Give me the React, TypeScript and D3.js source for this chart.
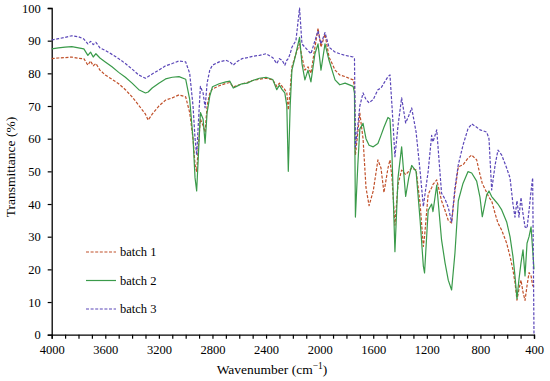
import React, { useEffect, useRef } from 'react';
import * as d3 from 'd3';

// wavenumbers (cm-1), shared by all three batches
const wavenumbers = [
  4000, 3950, 3900, 3850, 3800, 3760, 3730, 3710, 3690, 3670,
  3640, 3600, 3550, 3500, 3450, 3400, 3350, 3300, 3280, 3250,
  3200, 3150, 3100, 3050, 3000, 2970, 2945, 2930, 2918, 2905,
  2890, 2870, 2855, 2840, 2820, 2800, 2750, 2700, 2670, 2645,
  2620, 2580, 2540, 2500, 2450, 2400, 2350, 2320, 2300, 2280,
  2260, 2245, 2234, 2220, 2207, 2177, 2150, 2132, 2110, 2087,
  2065, 2035, 2012, 1990, 1960, 1930, 1885, 1850, 1810, 1750,
  1740, 1733, 1715, 1700, 1676, 1654, 1631, 1600, 1565, 1542,
  1520, 1490, 1475, 1460, 1438, 1415, 1388, 1358, 1335, 1313,
  1280, 1250, 1226, 1217, 1190, 1164, 1154, 1126, 1090, 1064,
  1040, 1015, 990, 965, 930, 893, 865, 828, 803, 786,
  753, 736, 716, 690, 669, 641, 604, 579, 557, 542,
  527, 512, 497, 482, 467, 452, 437, 422, 410, 400,
];

const batch1 = [
  84.5, 84.7, 84.8, 85.0, 84.6, 84.5, 82.5, 83.8, 82.3, 83.0,
  81.0, 79.5, 78.2, 76.8, 75.0, 72.8, 70.2, 67.5, 65.7, 67.5,
  70.0, 71.8, 72.5, 73.4, 72.8, 68, 60, 52, 50, 58,
  66, 64, 62, 70, 74, 75.2, 76.2, 76.9, 77.2, 75.8,
  76.2, 76.8, 77.2, 77.8, 78.2, 78.5, 78.0, 76, 77, 76,
  75, 74, 68.8, 75, 82, 86, 89, 85, 81, 82,
  80, 88, 93.8, 88, 92, 85, 81, 79.5, 79, 78,
  76, 55, 62, 67.8, 60, 45, 39.5, 44, 53.5, 51,
  43.5, 51, 53.5, 48, 33.5, 46, 50.4, 49, 50, 51,
  50.4, 40, 27, 30, 43, 45, 46, 47.4, 41, 38,
  35, 34.2, 44, 51.4, 52, 54, 55, 53.5, 49, 46.3,
  43.5, 42, 41, 37, 34.2, 32, 28, 24, 19.8, 16,
  10.6, 14, 16.7, 13, 10.5, 15, 19, 18, 15, 14.6,
];

const batch2 = [
  87.5, 87.8, 88.0, 88.2, 87.8, 87.5, 85.5, 86.5, 85.0, 86.0,
  84.7, 83.5, 82.0, 80.3, 78.8, 77.0, 75.0, 74.0, 74.3, 75.5,
  77.0, 78.3, 78.8, 79.0, 78.2, 72, 60, 48, 44, 55,
  68, 66, 58.6, 68, 73, 75.9, 76.8, 77.4, 77.6, 75.5,
  76, 76.8, 77, 77.8, 78.5, 78.8, 78.1, 75, 76.4, 75,
  74, 70, 50, 70, 81, 86, 91, 83, 78, 81,
  77.4, 86, 89, 81, 89, 84, 78, 76.5, 77, 76,
  74, 36, 52, 63, 64.7, 60, 58, 57.5, 58.5, 61,
  63.5, 66.5, 66, 55, 25.4, 48, 57.5, 42.3, 48, 51.8,
  50, 35, 21, 18.9, 38, 40, 37.7, 45.8, 29, 22,
  16.7, 13.7, 25, 41, 46.3, 49.9, 49.5, 47, 42, 36.1,
  42.8, 44, 42.3, 41, 40, 38.2, 34.5, 30, 23.9, 18,
  11, 17, 22, 26, 18, 28, 30, 33, 26, 20,
];

const batch3 = [
  90.2, 90.6, 91.0, 91.5, 91.2, 90.5, 89.0, 89.8, 88.8, 89.5,
  87.8, 87.0, 85.8, 84.5, 83.0, 81.3, 79.5, 78.5, 79.0, 79.8,
  81.0, 82.3, 83.0, 83.8, 83.5, 80.0, 70.0, 60.0, 55.0, 65.0,
  76.0, 74.0, 69.5, 77.0, 81.0, 82.5, 83.5, 84.0, 83.5, 82.5,
  83.5, 84.5, 84.8, 85.2, 85.5, 86.0, 84.8, 83.0, 84.5, 84.0,
  82.5, 84.0, 84.5, 86.0, 88.0, 90.0, 100, 89, 88, 87,
  86, 90, 93, 89, 92.5, 88, 86.5, 86, 85.5, 85,
  84.5, 57.5, 64, 70, 74, 72, 71, 72, 75, 75.5,
  77, 79, 79.5, 70, 54.5, 64, 72.5, 64.8, 67, 69.4,
  62, 50, 39.2, 42, 50, 61, 59, 62.7, 43.3, 41.5,
  39, 34.5, 45, 52, 58, 63, 64.5, 63.5, 62.7, 62.5,
  62, 60, 44.3, 52, 56.5, 55, 51, 48, 40, 36,
  41, 36, 42, 37, 33, 32.6, 38, 44, 48, 0,
];

const seriesNames = ['batch 1', 'batch 2', 'batch 3'];
const seriesColors = ['#c0502a', '#3a9a4a', '#5a46b8'];
const seriesDash = ['3,1.6', null, '3,1.6'];

const xTickLabels = [4000, 3600, 3200, 2800, 2400, 2000, 1600, 1200, 800, 400];
const yTickLabels = [0, 10, 20, 30, 40, 50, 60, 70, 80, 90, 100];

const W = 550, H = 381;
const FONT = 'Liberation Serif, DejaVu Serif, serif';

function App() {
  const ref = useRef<SVGSVGElement>(null);

  useEffect(() => {
    const svg = d3.select(ref.current);
    svg.selectAll('*').remove();

    const x = d3.scaleLinear().domain([4000, 400]).range([51.7, 534]);
    const y = d3.scaleLinear().domain([0, 100]).range([334.7, 8]);

    // axes
    const xAxis = d3.axisBottom(x)
      .tickValues(d3.range(4000, 399, -100))
      .tickSize(4)
      .tickPadding(6)
      .tickFormat((d: any) => (xTickLabels.indexOf(+d) >= 0 ? String(d) : ''));
    const gx = svg.append('g').attr('transform', `translate(0,${y(0)})`).call(xAxis);
    gx.attr('font-family', null).attr('font-size', null);
    gx.select('.domain').attr('stroke', '#000').attr('stroke-width', 1.3);
    gx.selectAll('.tick line').attr('stroke', '#000').attr('stroke-width', 1.2);
    gx.selectAll('.tick text').style('font-family', FONT).style('font-size', '12.5px').attr('fill', '#000');

    const yAxis = d3.axisLeft(y).tickValues(yTickLabels).tickSize(4).tickPadding(7);
    const gy = svg.append('g').attr('transform', `translate(${x(4000)},0)`).call(yAxis);
    gy.attr('font-family', null).attr('font-size', null);
    gy.select('.domain').attr('stroke', '#000').attr('stroke-width', 1.3);
    gy.selectAll('.tick line').attr('stroke', '#000').attr('stroke-width', 1.2);
    gy.selectAll('.tick text').style('font-family', FONT).style('font-size', '12.5px').attr('fill', '#000');

    // spectra
    const allSeries = [batch1, batch2, batch3];
    const line = d3.line<number>()
      .defined((d, i) => d != null && wavenumbers[i] != null)
      .x((d, i) => x(wavenumbers[i]))
      .y((d) => y(d));

    allSeries.forEach((vals, k) => {
      svg.append('path')
        .attr('d', line(vals))
        .attr('fill', 'none')
        .attr('stroke', seriesColors[k])
        .attr('stroke-width', 1.2)
        .attr('stroke-dasharray', seriesDash[k])
        .attr('stroke-linejoin', 'round');
    });

    // legend
    const legend = svg.append('g');
    seriesNames.forEach((name, k) => {
      const ly = 252 + k * 28.5;
      legend.append('line')
        .attr('x1', 86).attr('x2', 116).attr('y1', ly).attr('y2', ly)
        .attr('stroke', seriesColors[k]).attr('stroke-width', 1.2)
        .attr('stroke-dasharray', seriesDash[k]);
      legend.append('text')
        .attr('x', 120).attr('y', ly).attr('dy', '0.35em')
        .style('font-family', FONT).style('font-size', '12.5px')
        .text(name);
    });

    // axis titles
    const xt = svg.append('text')
      .attr('x', 272).attr('y', 374)
      .attr('text-anchor', 'middle')
      .style('font-family', FONT).style('font-size', '13.5px');
    xt.append('tspan').text('Wavenumber (cm');
    xt.append('tspan').attr('dy', -5).style('font-size', '9.5px').text('\u22121');
    xt.append('tspan').attr('dy', 5).text(')');

    svg.append('text')
      .attr('transform', 'translate(15,167) rotate(-90)')
      .attr('text-anchor', 'middle')
      .style('font-family', FONT).style('font-size', '13.5px')
      .text('Transmittance (%)');
  }, []);

  return (
    <svg ref={ref} width={W} height={H}
      style={{ position: 'absolute', left: 0, top: 0, background: '#fff' }} />
  );
}

export default App;
